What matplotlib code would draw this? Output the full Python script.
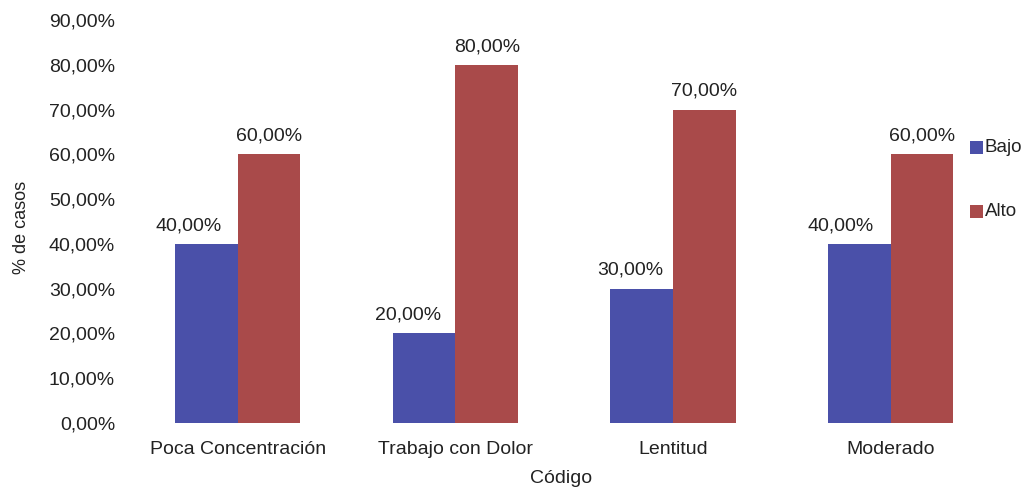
import matplotlib
matplotlib.use("Agg")
import matplotlib.pyplot as plt
from matplotlib.patches import Rectangle
import numpy as np

categories = ["Poca Concentración", "Trabajo con Dolor", "Lentitud", "Moderado"]
bajo = [0.40, 0.20, 0.30, 0.40]
alto = [0.60, 0.80, 0.70, 0.60]
series_names = ["Bajo", "Alto"]
colors = ["#4a50a9", "#a94a4a"]

# horizontal nudges (points) of the value labels of each series
label_shift = [[-13, -11.5, -8.5, -13.5], [0, 0, 0, 0]]

plt.rcParams["font.family"] = ["Liberation Sans", "DejaVu Sans"]
text_color = "#222222"

W, H = 1026, 488
fig = plt.figure(figsize=(W / 100, H / 100), dpi=100)
ax = fig.add_axes([129 / W, (H - 423) / H, (993 - 129) / W, (423 - 20) / H])

x = np.arange(len(categories))
bw = 0.288
for vals, off, col, name, shifts in zip([bajo, alto], [-bw / 2, bw / 2], colors,
                                        series_names, label_shift):
    bars = ax.bar(x + off, vals, width=bw, color=col, label=name)
    for b, v, dx in zip(bars, vals, shifts):
        ax.annotate(f"{v * 100:.2f}%".replace(".", ","),
                    (b.get_x() + b.get_width() / 2, v),
                    xytext=(dx, 7), textcoords="offset points",
                    ha="center", va="bottom", fontsize=14, color=text_color)

ax.set_xlim(-0.5, 3.47)
ax.set_ylim(0, 0.9)
ax.set_yticks(np.arange(0, 0.91, 0.1))
ax.set_yticklabels([f"{v * 100:.2f}%".replace(".", ",") for v in np.arange(0, 0.91, 0.1)])
ax.set_xticks(x)
ax.set_xticklabels(categories)
ax.tick_params(axis="both", length=0, labelsize=14, colors=text_color)
ax.tick_params(axis="y", pad=10)
ax.tick_params(axis="x", pad=13)
for s in ax.spines.values():
    s.set_visible(False)

ax.set_xlabel("Código", fontsize=14, color=text_color)
ax.set_ylabel("% de casos", fontsize=13, color=text_color)
ax.xaxis.set_label_coords(0.5, -0.138)
ax.yaxis.set_label_coords(-0.124, 0.486)
ax.xaxis.label.set_va("center")
ax.yaxis.label.set_va("center")

# legend: colour squares with labels at the right edge
sq = 13
for i, (name, col) in enumerate(zip(series_names, colors)):
    top = 141 + i * 64
    fig.patches.append(Rectangle((970 / W, (H - top - sq) / H), sq / W, sq / H,
                                 transform=fig.transFigure, facecolor=col,
                                 edgecolor="none"))
    fig.text(985 / W, (H - top - sq / 2) / H, name, fontsize=13.5,
             color=text_color, ha="left", va="center")

fig.savefig("out.png", dpi=100)
